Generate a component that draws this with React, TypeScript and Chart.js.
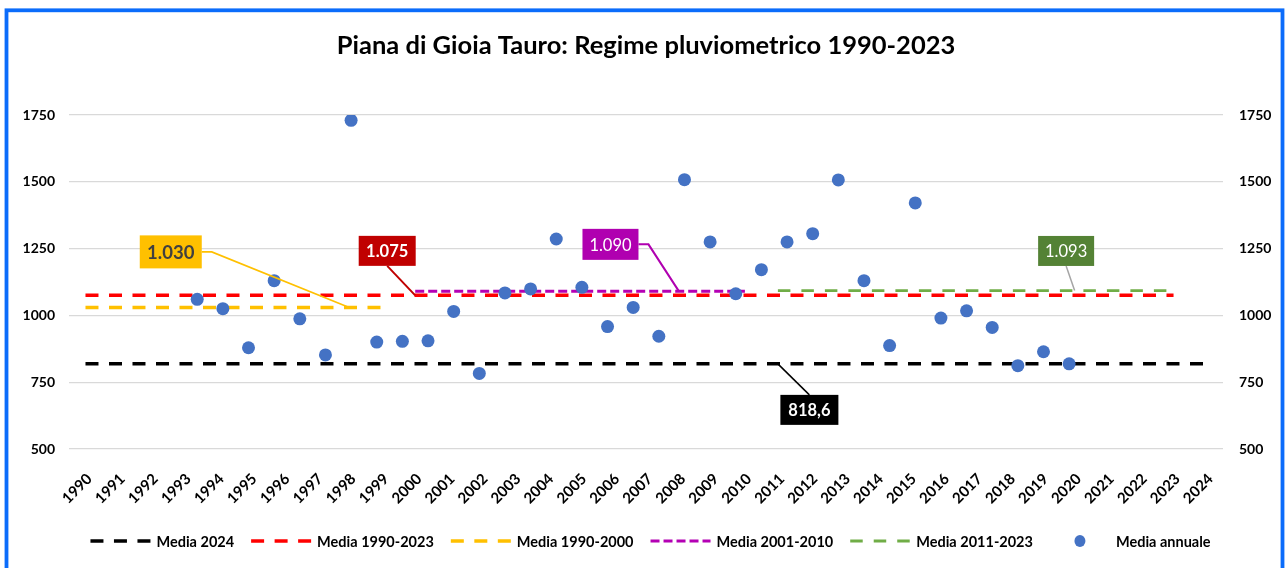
import React, { useEffect, useRef } from "react";
import { Chart, registerables } from "chart.js";

Chart.register(...registerables);

// ---------------- DATA ----------------
const YEARS = [
  "1990", "1991", "1992", "1993", "1994", "1995", "1996", "1997", "1998", "1999",
  "2000", "2001", "2002", "2003", "2004", "2005", "2006", "2007", "2008", "2009",
  "2010", "2011", "2012", "2013", "2014", "2015", "2016", "2017", "2018", "2019",
  "2020", "2021", "2022", "2023", "2024",
];

// "Media annuale" points (mm), one per year of the scatter series
const ANNUAL_MEAN = [
  1060, 1025, 879, 1130, 987, 852, 1730, 900, 903, 905,
  1015, 783, 1084, 1099, 1286, 1105, 958, 1030, 922, 1508,
  1275, 1081, 1171, 1275, 1306, 1507, 1130, 887, 1421, 990,
  1017, 955, 812, 864, 818.6,
];

const LINE_NAMES = ["Media 2024", "Media 1990-2023", "Media 1990-2000", "Media 2001-2010", "Media 2011-2023"];
const LINE_VALUES = [818.6, 1075, 1030, 1090, 1093];
const LINE_FROM = ["1990", "1990", "1990", "2000", "2011"];
const LINE_TO = ["2024", "2023", "1999", "2010", "2023"];
const LINE_LABELS = ["818,6", "1.075", "1.030", "1.090", "1.093"];
const LABEL_AT_YEAR = ["2011", "2000", "1998", "2008", "2020"];

const SCATTER_NAME = "Media annuale";
const Y_TICKS = [500, 750, 1000, 1250, 1500, 1750];
const TITLE = "Piana di Gioia Tauro: Regime pluviometrico 1990-2023";

// ---------------- STYLE ----------------
const FONT = "Lato, 'Open Sans', 'DejaVu Sans', sans-serif";
const LINE_STYLE = [
  { color: "#000000", width: 3.5, dash: [13, 10.5] },
  { color: "#FF0000", width: 3.5, dash: [13, 10.5] },
  { color: "#FFC000", width: 3.5, dash: [13, 10.5] },
  { color: "#B400B4", width: 3, dash: [9, 4] },
  { color: "#70AD47", width: 2.8, dash: [12.5, 11] },
];
const LABEL_STYLE = [
  { bg: "#000000", fg: "#FFFFFF", bold: true, size: 16.5, w: 58, h: 30, dx: 31.5, dy: 46, leader: "#000000", lw: 1.5, from: "top" },
  { bg: "#C00000", fg: "#FFFFFF", bold: true, size: 16.5, w: 57, h: 30, dx: -28, dy: -44.5, leader: "#C00000", lw: 2, from: "bottom" },
  { bg: "#FFC000", fg: "#404040", bold: true, size: 18.5, w: 62, h: 33, dx: -178.5, dy: -55.5, leader: "#FFC000", lw: 1.6, from: "right" },
  { bg: "#B000B0", fg: "#FFFFFF", bold: false, size: 16.5, w: 56, h: 31, dx: -68.5, dy: -47, leader: "#B000B0", lw: 2, from: "right" },
  { bg: "#548235", fg: "#FFFFFF", bold: false, size: 16.5, w: 56, h: 30, dx: -8.5, dy: -39.6, leader: "#A5A5A5", lw: 1.5, from: "bottom" },
];
const DOT_COLOR = "#4472C4";

const spanSeries = (value: number, from: string, to: string) =>
  YEARS.map((y) => (y >= from && y <= to ? value : null));

const decorPlugin = {
  id: "decor",
  afterDatasetsDraw(chart: any) {
    const ctx = chart.ctx;
    const xs = chart.scales.x;
    const ys = chart.scales.y;
    ctx.save();
    LINE_VALUES.forEach((v, i) => {
      const st = LABEL_STYLE[i];
      const ax = xs.getPixelForValue(YEARS.indexOf(LABEL_AT_YEAR[i]));
      const ay = ys.getPixelForValue(v);
      const cx = ax + st.dx;
      const cy = ay + st.dy;
      ctx.strokeStyle = st.leader;
      ctx.lineWidth = st.lw;
      ctx.setLineDash([]);
      ctx.beginPath();
      if (st.from === "right") {
        ctx.moveTo(cx + st.w / 2, cy);
        ctx.lineTo(cx + st.w / 2 + 10, cy);
      } else if (st.from === "bottom") {
        ctx.moveTo(cx, cy + st.h / 2);
      } else {
        ctx.moveTo(cx, cy - st.h / 2);
      }
      ctx.lineTo(ax, ay);
      ctx.stroke();
      ctx.fillStyle = st.bg;
      ctx.fillRect(cx - st.w / 2, cy - st.h / 2, st.w, st.h);
      ctx.fillStyle = st.fg;
      ctx.font = `${st.bold ? "bold " : ""}${st.size}px ${FONT}`;
      ctx.textAlign = "center";
      ctx.textBaseline = "middle";
      ctx.fillText(LINE_LABELS[i], cx, cy + 1);
    });
    ctx.restore();
  },
  afterDraw(chart: any) {
    const ctx = chart.ctx;
    ctx.save();
    // title
    ctx.fillStyle = "#000";
    ctx.font = `bold 25.5px ${FONT}`;
    ctx.textAlign = "center";
    ctx.textBaseline = "middle";
    ctx.fillText(TITLE, 646, 46);

    // legend
    ctx.font = `bold 14.5px ${FONT}`;
    const names = [...LINE_NAMES, SCATTER_NAME];
    const sampleW = 60, gapText = 6, gapItem = 17;
    const widths = names.map((n) => ctx.measureText(n).width);
    const total = widths.reduce((a, w) => a + sampleW + gapText + w, 0) + gapItem * (names.length - 1);
    let x = 650.5 - total / 2;
    const ly = 541;
    names.forEach((n, i) => {
      if (i < LINE_NAMES.length) {
        const st = LINE_STYLE[i];
        ctx.strokeStyle = st.color;
        ctx.lineWidth = st.width;
        ctx.setLineDash(st.dash);
        ctx.beginPath();
        ctx.moveTo(x, ly);
        ctx.lineTo(x + sampleW, ly);
        ctx.stroke();
        ctx.setLineDash([]);
      } else {
        ctx.fillStyle = DOT_COLOR;
        ctx.beginPath();
        ctx.ellipse(x + sampleW / 2, ly, 5.5, 6, 0, 0, Math.PI * 2);
        ctx.fill();
      }
      ctx.fillStyle = "#000";
      ctx.textAlign = "left";
      ctx.textBaseline = "middle";
      ctx.fillText(n, x + sampleW + gapText, ly + 1);
      x += sampleW + gapText + widths[i] + gapItem;
    });

    // frame
    ctx.strokeStyle = "#0B6CFB";
    ctx.lineWidth = 3.8;
    ctx.strokeRect(6.5, 10.3, 1276, 640);
    ctx.restore();
  },
};

export default function App() {
  const ref = useRef<HTMLCanvasElement>(null);
  useEffect(() => {
    const lineSets = LINE_NAMES.map((name, i) => ({
      type: "line" as const,
      label: name,
      data: spanSeries(LINE_VALUES[i], LINE_FROM[i], LINE_TO[i]),
      borderColor: LINE_STYLE[i].color,
      backgroundColor: LINE_STYLE[i].color,
      borderWidth: LINE_STYLE[i].width,
      borderDash: LINE_STYLE[i].dash,
      borderCapStyle: "butt" as const,
      pointRadius: 0,
      fill: false,
      spanGaps: false,
      xAxisID: "x",
      yAxisID: "y",
      order: 1,
    }));
    const scatter = {
      type: "scatter" as const,
      label: SCATTER_NAME,
      data: YEARS.map((y, i) => ({ x: Number(y), y: ANNUAL_MEAN[i] })),
      backgroundColor: DOT_COLOR,
      borderColor: DOT_COLOR,
      borderWidth: 0,
      pointRadius: 6.5,
      xAxisID: "x2",
      yAxisID: "y",
      order: 0,
    };
    const tickFont = { family: FONT, size: 14, weight: "bold" as const };
    const yTicks = (s: any) => {
      s.ticks = Y_TICKS.map((v) => ({ value: v }));
    };
    const chart = new Chart(ref.current!, {
      type: "line",
      data: { labels: YEARS, datasets: [scatter as any, ...lineSets] },
      options: {
        responsive: false,
        animation: false,
        events: [],
        layout: { padding: { top: 115, left: 0, right: 0, bottom: 0 } },
        plugins: {
          legend: { display: false },
          title: { display: false },
          tooltip: { enabled: false },
        },
        scales: {
          x: {
            type: "category",
            offset: true,
            grid: { display: false },
            border: { display: false },
            ticks: {
              color: "#000",
              font: { family: FONT, size: 15, weight: "bold" as const },
              autoSkip: false,
              minRotation: 45,
              maxRotation: 45,
              padding: 13,
              labelOffset: 4,
            },
            afterFit: (s: any) => {
              s.height = 119;
            },
          },
          x2: {
            type: "linear",
            display: false,
            min: 1985,
            max: 2030,
          },
          y: {
            position: "left",
            min: 500,
            max: 1750,
            afterBuildTicks: yTicks,
            grid: { color: "#D9D9D9", lineWidth: 1.3, drawTicks: false },
            border: { display: false },
            ticks: { color: "#000", font: tickFont, padding: 14, callback: (v: any) => String(v) },
            afterFit: (s: any) => {
              s.width = 69;
            },
          },
          y2: {
            position: "right",
            min: 500,
            max: 1750,
            afterBuildTicks: yTicks,
            grid: { display: false, drawTicks: false },
            border: { display: false },
            ticks: { color: "#000", font: tickFont, padding: 16, callback: (v: any) => String(v) },
            afterFit: (s: any) => {
              s.width = 64;
            },
          },
        },
      },
      plugins: [decorPlugin],
    } as any);
    return () => chart.destroy();
  }, []);
  return (
    <div style={{ position: "absolute", left: 0, top: 0, width: 1287, height: 568, background: "#fff" }}>
      <canvas ref={ref} width={1287} height={568} />
    </div>
  );
}
